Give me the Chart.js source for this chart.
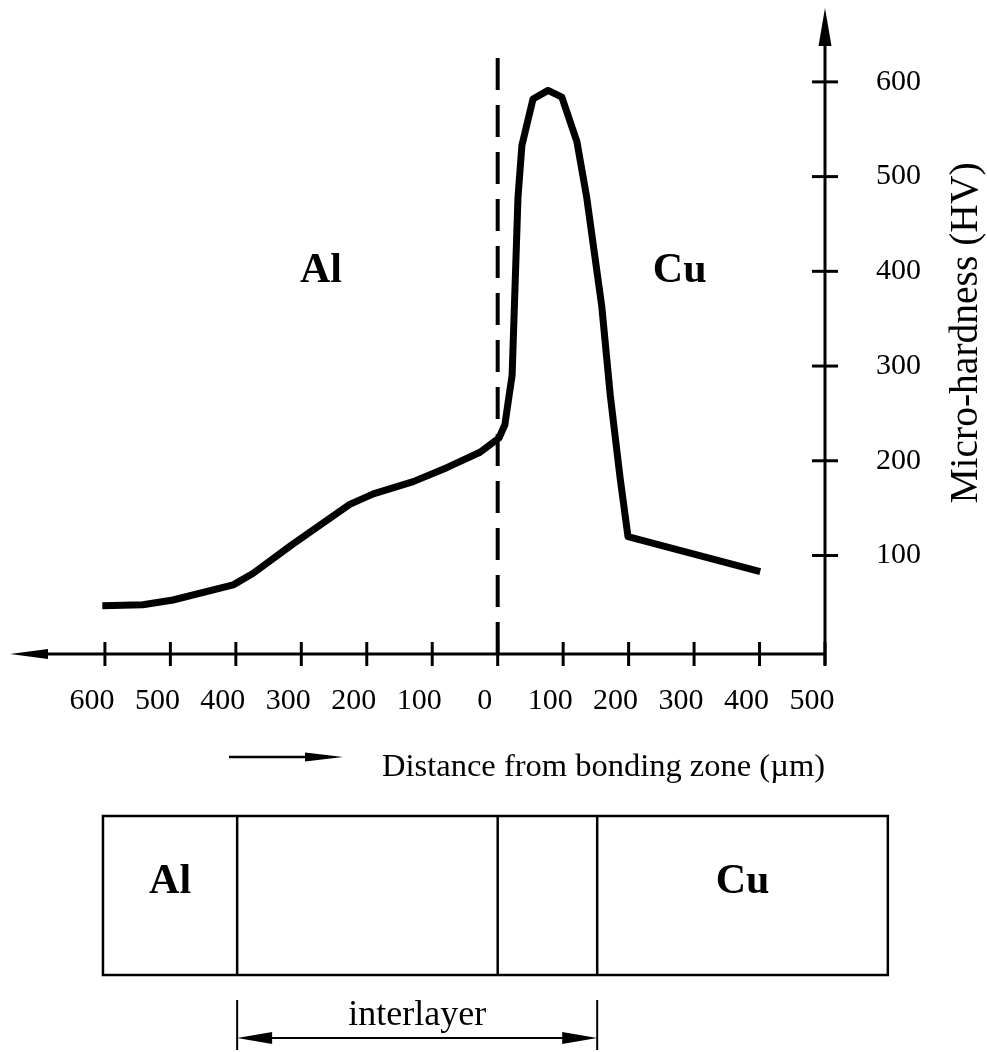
<!DOCTYPE html>
<html><head><meta charset="utf-8">
<script src="https://cdn.jsdelivr.net/npm/chart.js@4.4.1/dist/chart.umd.min.js"></script>
<style>html,body{margin:0;padding:0;background:#fff;}#wrap{position:relative;width:987px;height:1052px;}canvas{display:block;}</style>
</head><body><div id="wrap"><canvas id="c" width="987" height="1052"></canvas></div>
<script>
// ---- data (x: distance from bonding zone, negative = Al side; y: micro-hardness HV)
const distance = [-604,-542,-496,-404,-374,-313,-226,-190,-129,-77,-27,2,11,16,22,31,37,54,77,98,121,136,159,172,187,199,401];
const hardness = [47,48,53,69,81,112,154,165,178,193,209,224,238,262,290,478,533,582,591,584,537,478,363,269,182,120,83];
const xTicks = [-600,-500,-400,-300,-200,-100,0,100,200,300,400,500];
const yTicks = [100,200,300,400,500,600];
const regionLabels = ['Al','Cu'];
const regionLabelX = [-270, 278];
const regionLabelY = [400, 400];
const dividerX = 0;
const dividerTop = 634;
const zoneEdges = [-603,-398,0,152,596];
const zoneNames = ['Al','','','Cu'];
const interlayerSpan = [-398,152];
const interlayerText = 'interlayer';
const xTitle = 'Distance from bonding zone (\u00b5m)';
const yTitle = 'Micro-hardness (HV)';

const SERIF = "'Liberation Serif','Times New Roman',serif";

function arrowHead(ctx, tipX, tipY, dx, dy, len, half){
  const bx = tipX - dx*len, by = tipY - dy*len;
  const px = -dy, py = dx;
  ctx.beginPath();
  ctx.moveTo(tipX, tipY);
  ctx.lineTo(bx + px*half, by + py*half);
  ctx.lineTo(bx - px*half, by - py*half);
  ctx.closePath();
  ctx.fill();
}

const decor = {
  id: 'decor',
  beforeDatasetsDraw(chart){
    const ctx = chart.ctx, xs = chart.scales.x, ys = chart.scales.y, ca = chart.chartArea;
    ctx.save();
    ctx.strokeStyle = '#000'; ctx.fillStyle = '#000';
    // dashed divider at bonding zone
    const x0 = xs.getPixelForValue(dividerX);
    ctx.setLineDash([32,15]); ctx.lineWidth = 4;
    ctx.beginPath(); ctx.moveTo(x0, ca.bottom); ctx.lineTo(x0, ys.getPixelForValue(dividerTop)); ctx.stroke();
    ctx.setLineDash([]);
    // axes
    ctx.lineWidth = 3;
    ctx.beginPath(); ctx.moveTo(ca.left + 20, ca.bottom); ctx.lineTo(ca.right, ca.bottom); ctx.stroke();
    ctx.beginPath(); ctx.moveTo(ca.right, ca.top + 20); ctx.lineTo(ca.right, ca.bottom + 11); ctx.stroke();
    arrowHead(ctx, ca.left, ca.bottom, -1, 0, 38, 5);
    arrowHead(ctx, ca.right, ca.top, 0, -1, 38, 6.5);
    // tick crosses
    ctx.lineWidth = 3;
    xTicks.forEach(v => { const p = xs.getPixelForValue(v); ctx.beginPath(); ctx.moveTo(p, ca.bottom-12); ctx.lineTo(p, ca.bottom+12); ctx.stroke(); });
    yTicks.forEach(v => { const p = ys.getPixelForValue(v); ctx.beginPath(); ctx.moveTo(ca.right-13, p); ctx.lineTo(ca.right+13, p); ctx.stroke(); });
    ctx.restore();
  },
  afterDraw(chart){
    const ctx = chart.ctx, xs = chart.scales.x, ys = chart.scales.y;
    ctx.save();
    ctx.strokeStyle = '#000'; ctx.fillStyle = '#000';
    // region labels in plot
    ctx.font = 'bold 42px ' + SERIF; ctx.textAlign = 'center'; ctx.textBaseline = 'middle';
    regionLabels.forEach((t,i) => ctx.fillText(t, xs.getPixelForValue(regionLabelX[i]), ys.getPixelForValue(regionLabelY[i])));
    // y axis title (reads bottom to top)
    ctx.save();
    ctx.translate(967, 333); ctx.rotate(-Math.PI/2);
    ctx.font = '39.5px ' + SERIF; ctx.textAlign = 'center'; ctx.textBaseline = 'middle';
    ctx.fillText(yTitle, 0, 0);
    ctx.restore();
    // small arrow before x title
    ctx.lineWidth = 2.5;
    ctx.beginPath(); ctx.moveTo(229, 757); ctx.lineTo(320, 757); ctx.stroke();
    arrowHead(ctx, 343, 757, 1, 0, 38, 4.5);
    // bottom schematic
    const top = 816, bot = 975;
    const xL = xs.getPixelForValue(zoneEdges[0]), xR = xs.getPixelForValue(zoneEdges[zoneEdges.length-1]);
    ctx.lineWidth = 2.5;
    ctx.strokeRect(xL, top, xR - xL, bot - top);
    for (let i = 1; i < zoneEdges.length - 1; i++) {
      const p = xs.getPixelForValue(zoneEdges[i]);
      ctx.beginPath(); ctx.moveTo(p, top); ctx.lineTo(p, bot); ctx.stroke();
    }
    ctx.font = 'bold 42px ' + SERIF; ctx.textAlign = 'center'; ctx.textBaseline = 'middle';
    zoneNames.forEach((t,i) => { if (!t) return; const a = xs.getPixelForValue(zoneEdges[i]), b = xs.getPixelForValue(zoneEdges[i+1]); ctx.fillText(t, (a+b)/2, 882); });
    // interlayer dimension
    const ia = xs.getPixelForValue(interlayerSpan[0]), ib = xs.getPixelForValue(interlayerSpan[1]);
    ctx.lineWidth = 2;
    ctx.beginPath(); ctx.moveTo(ia, 1000); ctx.lineTo(ia, 1050); ctx.moveTo(ib, 1000); ctx.lineTo(ib, 1050); ctx.stroke();
    ctx.beginPath(); ctx.moveTo(ia + 20, 1038); ctx.lineTo(ib - 20, 1038); ctx.stroke();
    arrowHead(ctx, ia, 1038, -1, 0, 35, 6);
    arrowHead(ctx, ib, 1038, 1, 0, 35, 6);
    ctx.font = '36px ' + SERIF; ctx.textAlign = 'center'; ctx.textBaseline = 'alphabetic';
    ctx.fillText(interlayerText, (ia+ib)/2, 1025);
    ctx.restore();
  }
};

new Chart(document.getElementById('c'), {
  type: 'line',
  data: {
    datasets: [{
      data: distance.map((d,i) => ({x: d, y: hardness[i]})),
      borderColor: '#000', borderWidth: 7, pointRadius: 0, tension: 0,
      borderJoinStyle: 'round', borderCapStyle: 'butt', fill: false
    }]
  },
  options: {
    responsive: false, animation: false, devicePixelRatio: 1,
    layout: { padding: { left: 10, top: 8, right: 0, bottom: 0 } },
    plugins: { legend: { display: false }, tooltip: { enabled: false }, title: { display: false } },
    scales: {
      x: {
        type: 'linear', position: 'bottom', min: -745, max: 500,
        grid: { display: false }, border: { display: false },
        afterBuildTicks: s => { s.ticks = xTicks.map(v => ({value: v})); },
        afterFit: s => { s.height = 1052 - 654; s.paddingLeft = 0; s.paddingRight = 0; },
        ticks: { color: '#000', padding: 21, maxRotation: 0, autoSkip: false, labelOffset: -13,
          font: { family: SERIF, size: 30 },
          callback: v => String(Math.abs(v)) },
        title: { display: true, text: xTitle, align: 'end', color: '#000',
          font: { family: SERIF, size: 32.5 }, padding: { top: 0, bottom: 265 } }
      },
      y: {
        type: 'linear', position: 'right', min: -4, max: 678,
        grid: { display: false }, border: { display: false },
        afterBuildTicks: s => { s.ticks = yTicks.map(v => ({value: v})); },
        afterFit: s => { s.width = 987 - 825; s.paddingTop = 0; s.paddingBottom = 0; },
        ticks: { color: '#000', padding: 43, autoSkip: false,
          font: { family: SERIF, size: 30 } }
      }
    }
  },
  plugins: [decor]
});
</script>
</body></html>
